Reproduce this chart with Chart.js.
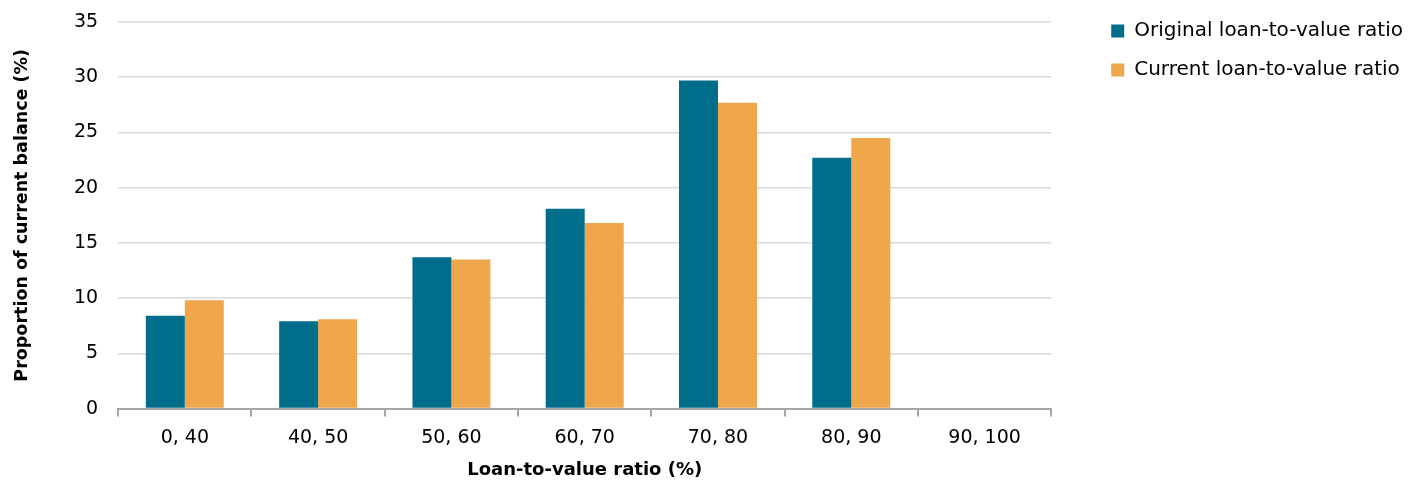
<!DOCTYPE html>
<html>
<head>
<meta charset="utf-8">
<script src="https://cdn.jsdelivr.net/npm/chart.js@4"></script>
<style>
  html, body { margin: 0; padding: 0; background: #fff; }
  #wrap { width: 1418px; height: 483px; position: relative; }
</style>
</head>
<body>
<div id="wrap"><canvas id="ltvChart"></canvas></div>
<script>
// LTV buckets (%)
const categories = ['0, 40', '40, 50', '50, 60', '60, 70', '70, 80', '80, 90', '90, 100'];
const originalLtv = [8.4, 7.9, 13.7, 18.1, 29.7, 22.7, 0];
const currentLtv = [9.8, 8.1, 13.5, 16.8, 27.7, 24.5, 0];
const yTicks = [0, 5, 10, 15, 20, 25, 30, 35];

const TEAL = '#006e8a';
const ORANGE = '#f0a64b';
const FONT = "'DejaVu Sans', sans-serif";

new Chart(document.getElementById('ltvChart'), {
  type: 'bar',
  data: {
    labels: categories,
    datasets: [
      { label: 'Original loan-to-value ratio', data: originalLtv, backgroundColor: TEAL },
      { label: 'Current loan-to-value ratio', data: currentLtv, backgroundColor: ORANGE },
    ],
  },
  options: {
    responsive: true,
    maintainAspectRatio: false,
    animation: false,
    datasets: { bar: { barPercentage: 1, categoryPercentage: 0.585 } },
    layout: { padding: { top: 2, right: 5, left: 8, bottom: 2 } },
    plugins: {
      tooltip: { enabled: false },
      legend: {
        position: 'right',
        align: 'start',
        maxWidth: 400,
        labels: {
          color: '#000',
          boxWidth: 13,
          boxHeight: 13,
          padding: 19,
          font: { family: FONT, size: 20 },
        },
      },
    },
    scales: {
      x: {
        offset: true,
        border: { color: '#a6a6a6', width: 2 },
        grid: { display: true, drawOnChartArea: false, offset: true, color: '#a6a6a6', tickLength: 8, lineWidth: 2 },
        ticks: { color: '#000', padding: 10, font: { family: FONT, size: 19 } },
        title: {
          display: true,
          text: 'Loan-to-value ratio (%)',
          color: '#000',
          padding: { top: 0, bottom: 0 },
          font: { family: FONT, size: 18, weight: 'bold' },
        },
      },
      y: {
        min: 0,
        max: 35,
        afterBuildTicks: (axis) => { axis.ticks = yTicks.map(v => ({ value: v })); },
        // tick padding also pads the top of the plot; pull it back
        afterFit: (scale) => { scale.paddingTop = 22; },
        border: { display: false },
        grid: { color: '#d9d9d9', lineWidth: 1.5, drawTicks: false },
        ticks: { color: '#000', padding: 20, font: { family: FONT, size: 19 } },
        title: {
          display: true,
          text: 'Proportion of current balance (%)',
          color: '#000',
          padding: { bottom: 21 },
          font: { family: FONT, size: 17.5, weight: 'bold' },
        },
      },
      // empty right-hand scale: only keeps the gap between plot and legend
      gap: {
        type: 'linear',
        position: 'right',
        grid: { display: false },
        border: { display: false },
        ticks: { display: false },
        afterFit: (scale) => { scale.width = 41; },
      },
    },
  },
});
</script>
</body>
</html>
